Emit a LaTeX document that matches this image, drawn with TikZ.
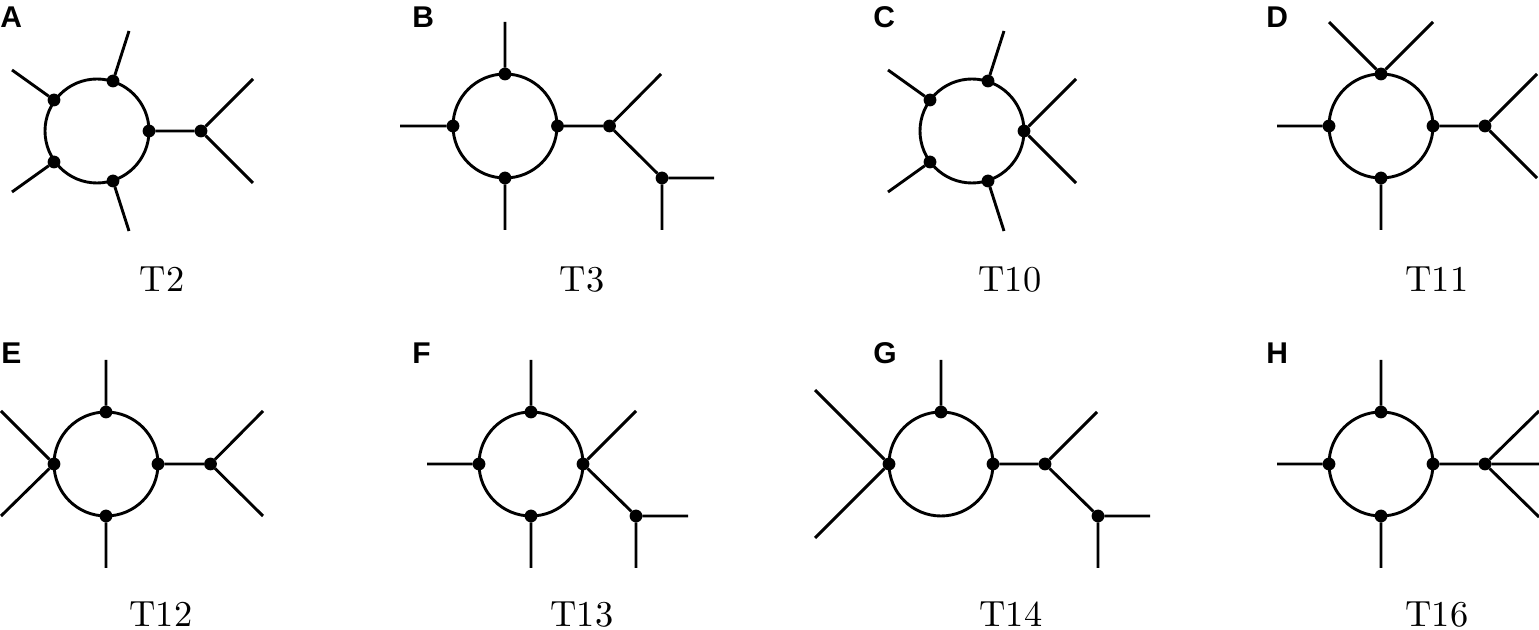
\documentclass[tikz,border=0pt]{standalone}
\usepackage{fontspec}
\setsansfont{Liberation Sans}
\tikzset{
  ring/.style={circle,draw=black,line width=1.45pt,minimum size=52pt,inner sep=0pt,outer sep=0pt},
  vx/.style={circle,fill=black,minimum size=6.4pt,inner sep=0pt,outer sep=0pt},
  leg/.style={draw=black,line width=1.45pt,line cap=butt},
  panel/.style={font=\sffamily\bfseries\fontsize{15}{16}\selectfont,anchor=base west,inner sep=0pt},
  captext/.style={font=\fontsize{10}{12}\selectfont,scale=1.82,anchor=base,inner sep=0pt}
}
\begin{document}
\begin{tikzpicture}[x=0.5pt,y=-0.5pt]
\useasboundingbox (0,0) rectangle (1539,630);
% panel letters
\node[panel] (la) at (0,28) {A};
\node[panel] (lb) at (412,28) {B};
\node[panel] (lc) at (873,28) {C};
\node[panel] (ld) at (1266,28) {D};
\node[panel] (le) at (1,364) {E};
\node[panel] (lf) at (412,364) {F};
\node[panel] (lg) at (873,364) {G};
\node[panel] (lh) at (1266,364) {H};
% captions
\node[captext] (ca) at (162,292) {T2};
\node[captext] (cb) at (582,292) {T3};
\node[captext] (cc) at (1010,292) {T10};
\node[captext] (cd) at (1437,292) {T11};
\node[captext] (ce) at (161,627) {T12};
\node[captext] (cf) at (582,627) {T13};
\node[captext] (cg) at (1011,627) {T14};
\node[captext] (ch) at (1437,627) {T16};
% rings
\node[ring] (ra) at (97,131) {};
\node[ring] (rb) at (505,126) {};
\node[ring] (rc) at (972,131) {};
\node[ring] (rd) at (1381,126) {};
\node[ring] (re) at (106,464) {};
\node[ring] (rf) at (531,464) {};
\node[ring] (rg) at (941,464) {};
\node[ring] (rh) at (1381,464) {};
% free ends
\foreach \n/\x/\y in {
 a1/129/31,a2/12/70,a3/12/192,a4/129/231,a5/253/79,a6/253/183,
 b1/505/22,b2/400/126,b3/505/230,b4/661/74,b5/714/178,b6/662/230,
 c1/1004/31,c2/888/70,c3/888/192,c4/1004/231,c5/1076/79,c6/1076/183,
 d1/1329/22,d2/1433/22,d3/1277/126,d4/1381/230,d5/1537/74,d6/1537/178,
 e1/106/360,e2/1/411,e3/1/516,e4/106/568,e5/263/411,e6/263/516,
 f1/531/360,f2/427/464,f3/531/568,f4/636/411,f5/688/516,f6/636/568,
 g1/941/360,g2/815/390,g3/815/538,g4/1097/412,g5/1150/516,g6/1098/568,
 h1/1381/360,h2/1277/464,h3/1381/568,h4/1539/411,h5/1539/464,h6/1539/517}
 {\coordinate (\n) at (\x,\y);}
% vertices
\node[vx] (A1) at (113,81) {};
\node[vx] (A2) at (54,100) {};
\node[vx] (A3) at (54,162) {};
\node[vx] (A4) at (113,181) {};
\node[vx] (A5) at (149,131) {};
\node[vx] (A6) at (201,131) {};
\node[vx] (B1) at (505,74) {};
\node[vx] (B2) at (453,126) {};
\node[vx] (B3) at (505,178) {};
\node[vx] (B4) at (557.5,126) {};
\node[vx] (B5) at (609.5,126) {};
\node[vx] (B6) at (662,178) {};
\node[vx] (C1) at (988,81) {};
\node[vx] (C2) at (930,100) {};
\node[vx] (C3) at (930,162) {};
\node[vx] (C4) at (988,181) {};
\node[vx] (C5) at (1024,131) {};
\node[vx] (D1) at (1381,74) {};
\node[vx] (D2) at (1329,126) {};
\node[vx] (D3) at (1381,178) {};
\node[vx] (D4) at (1433,126) {};
\node[vx] (D5) at (1485,126) {};
\node[vx] (E1) at (106,412) {};
\node[vx] (E2) at (54,464) {};
\node[vx] (E3) at (106,516) {};
\node[vx] (E4) at (158,464) {};
\node[vx] (E5) at (210.5,464) {};
\node[vx] (F1) at (531,412) {};
\node[vx] (F2) at (479,464) {};
\node[vx] (F3) at (531,516) {};
\node[vx] (F4) at (583,464) {};
\node[vx] (F5) at (636,516) {};
\node[vx] (G1) at (941,412) {};
\node[vx] (G2) at (889,464) {};
\node[vx] (G3) at (993,464) {};
\node[vx] (G4) at (1045,464) {};
\node[vx] (G5) at (1098,516) {};
\node[vx] (H1) at (1381,412) {};
\node[vx] (H2) at (1329,464) {};
\node[vx] (H3) at (1381,516) {};
\node[vx] (H4) at (1433,464) {};
\node[vx] (H5) at (1485,464) {};
% connectors
\path[leg] (A1)--(a1) (A2)--(a2) (A3)--(a3) (A4)--(a4) (A5)--(A6) (A6)--(a5) (A6)--(a6);
\path[leg] (B1)--(b1) (B2)--(b2) (B3)--(b3) (B4)--(B5) (B5)--(b4) (B5)--(B6) (B6)--(b5) (B6)--(b6);
\path[leg] (C1)--(c1) (C2)--(c2) (C3)--(c3) (C4)--(c4) (C5)--(c5) (C5)--(c6);
\path[leg] (D1)--(d1) (D1)--(d2) (D2)--(d3) (D3)--(d4) (D4)--(D5) (D5)--(d5) (D5)--(d6);
\path[leg] (E1)--(e1) (E2)--(e2) (E2)--(e3) (E3)--(e4) (E4)--(E5) (E5)--(e5) (E5)--(e6);
\path[leg] (F1)--(f1) (F2)--(f2) (F3)--(f3) (F4)--(f4) (F4)--(F5) (F5)--(f5) (F5)--(f6);
\path[leg] (G1)--(g1) (G2)--(g2) (G2)--(g3) (G3)--(G4) (G4)--(g4) (G4)--(G5) (G5)--(g5) (G5)--(g6);
\path[leg] (H1)--(h1) (H2)--(h2) (H3)--(h3) (H4)--(H5) (H5)--(h4) (H5)--(h5) (H5)--(h6);
\end{tikzpicture}
\end{document}
